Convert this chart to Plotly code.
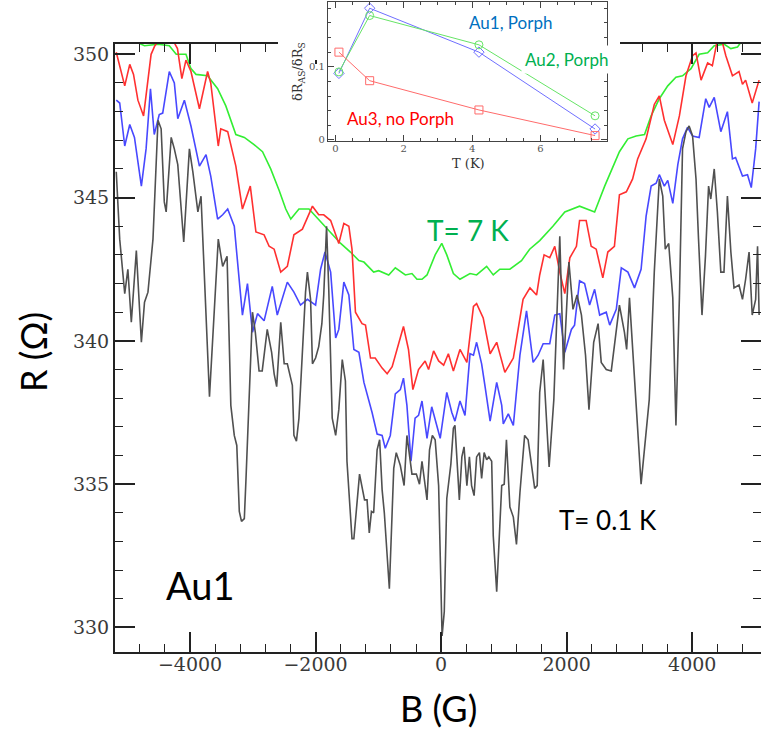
import plotly.graph_objects as go

W, H = 761, 734

# ---------------- main panel data: B (G) and R (Ohm) ----------------
B_green = [-5175, -4900, -4830, -4725, -4510, -4330, -4220, -4065, -3985, -3905, -3720, -3560, -3430,
           -3270, -3135, -2980, -2845, -2715, -2580, -2475, -2395, -2265, -2105, -1975, -1790, -1600,
           -1445, -1310, -1230, -1075, -995, -835, -730, -570, -465, -385, -305, -225, -95, 10, 90, 195,
           300, 460, 565, 725, 830, 935, 1095, 1280, 1410, 1570, 1780, 1970, 2205, 2445, 2605, 2735,
           2840, 2975, 3105, 3240, 3345, 3475, 3610, 3740, 3845, 3980, 4110, 4245, 4350, 4510, 4615,
           4720, 4800, 5100]
R_green = [350.6, 350.6, 350.4, 350.3, 350.35, 350.3, 350.0, 350.0, 349.5, 349.3, 349.25, 348.8, 348.2,
           347.2, 347.1, 346.85, 346.6, 346.0, 345.25, 344.6, 344.25, 344.6, 344.6, 344.3, 343.85, 343.4,
           343.1, 342.8, 342.75, 342.4, 342.45, 342.3, 342.55, 342.3, 342.35, 342.15, 342.15, 342.3, 343.0,
           343.4, 343.0, 342.35, 342.15, 342.35, 342.3, 342.6, 342.3, 342.5, 342.5, 342.8, 343.2, 343.5,
           344.0, 344.5, 344.7, 344.5, 345.4, 346.1, 346.6, 347.05, 347.15, 347.2, 347.85, 348.45, 348.9,
           349.2, 349.25, 349.5, 350.0, 350.05, 350.3, 350.35, 350.2, 350.25, 350.5, 350.7]

B_red = [-5175, -5040, -4960, -4900, -4830, -4740, -4620, -4560, -4450, -4300, -4200, -4130, -4065, -3985,
         -3850, -3720, -3670, -3550, -3510, -3400, -3270, -3165, -3040, -2950, -2820, -2740, -2660, -2555,
         -2450, -2345, -2210, -2050, -1950, -1870, -1760, -1630, -1550, -1470, -1420, -1365, -1260, -1205,
         -1125, -1050, -940, -860, -780, -700, -600, -520, -450, -360, -255, -200, -120, -40, 40, 115, 195,
         300, 410, 515, 565, 670, 780, 885, 1015, 1150, 1305, 1415, 1520, 1570, 1640, 1730, 1810, 1890,
         1970, 2050, 2155, 2205, 2310, 2390, 2470, 2575, 2655, 2760, 2840, 2950, 3050, 3130, 3265, 3395,
         3475, 3555, 3690, 3795, 3900, 4005, 4060, 4140, 4245, 4320, 4400, 4470, 4535, 4640, 4745, 4800,
         4850, 4955, 5065]
R_red = [350.07, 348.9, 349.65, 349.3, 348.4, 347.85, 350.0, 350.3, 350.6, 350.6, 350.2, 349.15, 349.8, 349.4,
         348.1, 349.4, 349.0, 346.8, 347.4, 347.3, 346.1, 344.6, 345.4, 343.8, 343.7, 343.3, 343.2, 342.4,
         342.6, 343.7, 343.9, 344.7, 344.4, 344.4, 344.2, 343.4, 344.1, 344.0, 343.2, 341.0, 340.6, 340.55,
         339.4, 339.4, 339.05, 338.85, 339.1, 339.7, 340.5, 339.7, 338.3, 339.0, 339.3, 339.0, 339.65, 339.3,
         339.15, 339.55, 338.95, 339.7, 339.25, 341.2, 341.3, 340.8, 339.55, 339.95, 338.9, 339.4, 341.45,
         341.85, 341.6, 342.3, 343.0, 342.9, 343.3, 342.4, 341.65, 342.9, 343.3, 344.2, 344.2, 343.3, 343.2,
         342.2, 343.1, 343.3, 345.1, 345.2, 345.65, 346.35, 347.05, 348.25, 348.55, 347.7, 346.85, 347.85,
         349.25, 349.95, 350.05, 349.1, 349.7, 349.6, 350.5, 350.5, 349.95, 349.25, 349.4, 348.95, 349.1,
         348.3, 349.1]

B_blue = [-5175, -5120, -5040, -4960, -4885, -4775, -4700, -4630, -4570, -4490, -4435, -4330, -4250, -4195,
          -4090, -3985, -3850, -3745, -3670, -3560, -3480, -3400, -3295, -3165, -3085, -3005, -2925, -2820,
          -2690, -2610, -2450, -2345, -2240, -2130, -2000, -1920, -1850, -1760, -1680, -1630, -1550, -1470,
          -1390, -1310, -1230, -1100, -1020, -940, -890, -810, -730, -650, -600, -545, -480, -415, -360,
          -305, -225, -150, -15, 90, 170, 220, 300, 380, 460, 515, 565, 645, 700, 780, 885, 965, 990, 1070,
          1150, 1255, 1360, 1465, 1545, 1625, 1730, 1810, 1890, 1970, 2075, 2125, 2205, 2285, 2365, 2445,
          2525, 2630, 2685, 2790, 2870, 2975, 3080, 3185, 3265, 3345, 3425, 3475, 3555, 3610, 3690, 3770,
          3845, 3925, 4005, 4110, 4215, 4270, 4350, 4455, 4560, 4640, 4690, 4800, 4880, 4940, 5010, 5065]
R_blue = [348.4, 348.3, 346.8, 347.55, 347.1, 345.4, 346.7, 348.8, 347.2, 347.9, 347.95, 349.4, 349.0, 347.75,
          348.4, 347.5, 346.1, 346.5, 345.75, 344.25, 344.4, 344.6, 344.0, 340.9, 342.0, 340.3, 340.95, 340.7,
          341.9, 340.9, 342.05, 341.7, 341.25, 341.45, 341.25, 342.5, 343.1, 342.4, 340.1, 340.4, 342.05,
          341.6, 339.7, 339.6, 338.55, 337.5, 336.75, 336.7, 336.25, 336.7, 338.15, 338.3, 338.7, 337.75,
          335.8, 337.3, 337.4, 337.9, 336.6, 337.7, 336.6, 338.2, 337.5, 337.2, 337.9, 337.4, 339.55, 339.5,
          339.95, 339.2, 338.4, 337.2, 338.55, 337.75, 337.1, 337.45, 337.05, 339.5, 341.05, 339.25, 339.5,
          339.9, 339.9, 340.9, 340.95, 339.6, 340.4, 340.55, 342.1, 342.0, 341.25, 341.8, 340.9, 341.0,
          340.55, 341.1, 342.55, 342.4, 341.85, 342.5, 344.35, 345.4, 345.5, 345.8, 345.4, 345.6, 344.8,
          346.15, 347.05, 347.45, 347.15, 347.1, 348.45, 348.15, 348.5, 347.3, 348.0, 346.35, 346.4, 345.75,
          345.8, 345.35, 346.7, 348.35]

B_black = [-5175, -5120, -5040, -4990, -4935, -4855, -4775, -4725, -4670, -4590, -4510, -4460, -4410, -4380,
           -4300, -4250, -4195, -4100, -4010, -3955, -3875, -3825, -3690, -3550, -3480, -3410, -3350, -3295,
           -3255, -3215, -3180, -3135, -3110, -3005, -2960, -2900, -2850, -2770, -2700, -2660, -2620, -2555,
           -2500, -2450, -2370, -2345, -2305, -2265, -2160, -2130, -2080, -2050, -2000, -1950, -1900, -1870,
           -1825, -1790, -1735, -1680, -1630, -1575, -1525, -1500, -1420, -1390, -1300, -1220, -1180, -1145,
           -1110, -1075, -1020, -980, -940, -905, -825, -755, -715, -650, -590, -545, -465, -395, -345, -305,
           -225, -185, -140, -95, -40, -15, 15, 50, 90, 155, 195, 220, 290, 330, 365, 410, 450, 485, 525, 565,
           610, 645, 685, 725, 760, 805, 830, 885, 965, 1005, 1040, 1095, 1150, 1200, 1255, 1330, 1385, 1490,
           1530, 1570, 1625, 1720, 1795, 1890, 1950, 2035, 2100, 2165, 2235, 2300, 2355, 2430, 2500, 2550,
           2630, 2710, 2760, 2840, 2920, 2955, 3000, 3185, 3315, 3395, 3475, 3530, 3570, 3625, 3690, 3740,
           3795, 3845, 3900, 3950, 4005, 4060, 4100, 4155, 4210, 4260, 4295, 4350, 4400, 4455, 4505, 4560,
           4615, 4665, 4745, 4800, 4850, 4905, 4955, 5010, 5040, 5065]
R_black = [345.9, 343.55, 341.65, 342.5, 340.65, 343.15, 339.95, 341.35, 341.7, 343.55, 347.7, 347.4, 344.85,
           344.5, 347.1, 346.7, 346.15, 343.45, 346.7, 345.9, 344.5, 345.05, 338.05, 343.55, 342.6, 342.95,
           337.75, 336.7, 336.35, 334.05, 333.7, 333.8, 335.1, 341.0, 340.3, 338.95, 338.95, 340.4, 339.6,
           338.85, 338.4, 340.65, 339.2, 339.2, 338.45, 336.7, 336.5, 337.3, 341.7, 342.4, 341.45, 339.2,
           339.4, 339.8, 340.6, 341.6, 344.0, 341.8, 337.3, 336.7, 337.6, 339.35, 338.6, 335.8, 333.1, 333.1,
           335.35, 334.45, 334.45, 333.3, 334.05, 334.0, 336.2, 336.55, 334.8, 334.0, 331.35, 335.55, 336.1,
           335.65, 334.95, 336.7, 335.35, 335.35, 335.0, 335.8, 334.45, 336.2, 336.7, 336.55, 334.95, 332.65,
           329.7, 330.55, 334.5, 335.7, 336.95, 337.05, 334.45, 335.95, 336.3, 334.95, 335.95, 334.95, 334.6,
           335.95, 336.1, 335.2, 336.1, 335.85, 335.95, 335.8, 333.2, 331.25, 334.95, 335.0, 336.55, 334.2,
           333.85, 332.9, 334.7, 336.7, 336.55, 334.85, 334.95, 338.2, 339.35, 335.6, 337.95, 343.65, 339.0,
           342.75, 341.1, 341.6, 340.9, 339.5, 337.6, 339.95, 340.6, 339.25, 339.0, 338.95, 339.9, 341.25,
           340.3, 339.7, 341.5, 335.0, 337.95, 342.4, 345.65, 345.05, 343.2, 343.4, 341.5, 337.05, 341.5,
           346.7, 347.3, 347.5, 347.15, 345.65, 343.55, 340.9, 342.95, 345.4, 344.95, 346.0, 344.5, 342.4,
           342.4, 345.05, 343.1, 341.85, 341.95, 341.45, 342.15, 343.1, 340.9, 341.45, 343.3, 340.9]

# ---------------- inset data ----------------
T_K = [0.1, 1.0, 4.2, 7.6]
ratio_au1 = [0.091, 0.180, 0.120, 0.015]
ratio_au2 = [0.093, 0.170, 0.130, 0.033]
ratio_au3 = [0.120, 0.081, 0.041, 0.006]

# ---------------- geometry (pixels -> paper) ----------------
def px(x):
    return x / W

def py(y):
    return 1 - y / H

main_x = [px(115), 1.0]
main_y = [py(651.5), py(44)]
inset_x = [px(328), px(607)]
inset_y = [py(141), py(2)]
cover_x = [px(278), px(620)]
cover_y = [py(60), 1.0]

SERIF = "DejaVu Serif"
SANS = "Lato"
AX = "#222222"

fig = go.Figure()

main_series = [
    (B_green, R_green, "#33ee33"),
    (B_red, R_red, "#ff3030"),
    (B_blue, R_blue, "#4848ff"),
    (B_black, R_black, "#505050"),
]
for bx, ry, col in main_series:
    fig.add_trace(go.Scatter(x=bx, y=ry, mode="lines", xaxis="x", yaxis="y",
                             line=dict(color=col, width=1.6), showlegend=False,
                             hoverinfo="skip"))

# white cover subplot (hides part of main frame behind inset)
fig.add_trace(go.Scatter(x=[0], y=[0], mode="markers", marker=dict(opacity=0),
                         xaxis="x2", yaxis="y2", showlegend=False, hoverinfo="skip"))

inset_series = [
    (ratio_au1, "#6f6fff", "diamond-open"),
    (ratio_au2, "#66e466", "circle-open"),
    (ratio_au3, "#ff6b6b", "square-open"),
]
for vals, col, sym in inset_series:
    fig.add_trace(go.Scatter(x=T_K, y=vals, mode="lines+markers", xaxis="x3", yaxis="y3",
                             line=dict(color=col, width=1),
                             marker=dict(symbol=sym, size=8, color=col, line=dict(color=col, width=1)),
                             showlegend=False, hoverinfo="skip"))

fig.update_layout(
    width=W, height=H,
    margin=dict(l=0, r=0, t=0, b=0),
    paper_bgcolor="white", plot_bgcolor="white",
    xaxis=dict(domain=main_x, range=[-5195, 5095], anchor="y",
               tick0=0, dtick=2000, ticks="inside", ticklen=20, tickwidth=1.5, tickcolor=AX,
               minor=dict(dtick=400, tick0=0, ticks="inside", ticklen=8, tickwidth=1.2, tickcolor=AX),
               showline=True, linecolor=AX, linewidth=2, mirror="allticks",
               showgrid=False, zeroline=False, automargin=False, ticklabelstandoff=-5,
               tickfont=dict(family=SERIF, size=19, color="#3a3a3a")),
    yaxis=dict(domain=main_y, range=[329.16, 350.36], anchor="x",
               tick0=330, dtick=5, ticks="inside", ticklen=20, tickwidth=1.5, tickcolor=AX,
               minor=dict(dtick=1, tick0=330, ticks="inside", ticklen=8, tickwidth=1.2, tickcolor=AX),
               showline=True, linecolor=AX, linewidth=2, mirror="allticks",
               showgrid=False, zeroline=False, automargin=False,
               tickfont=dict(family=SERIF, size=19, color="#3a3a3a")),
    xaxis2=dict(domain=cover_x, range=[0, 1], anchor="y2", visible=False, fixedrange=True),
    yaxis2=dict(domain=cover_y, range=[0, 1], anchor="x2", visible=False, fixedrange=True),
    xaxis3=dict(domain=inset_x, range=[-0.22, 7.95], anchor="y3",
                tick0=0, dtick=2, ticks="inside", ticklen=6, tickwidth=1, tickcolor="#444",
                minor=dict(dtick=0.5, tick0=0, ticks="inside", ticklen=3, tickwidth=1, tickcolor="#444"),
                showline=True, linecolor="#444", linewidth=1.2, mirror="allticks",
                showgrid=False, zeroline=False, automargin=False, ticklabelstandoff=-2,
                tickfont=dict(family=SERIF, size=10, color="#555")),
    yaxis3=dict(domain=inset_y, range=[-0.0014, 0.1885], anchor="x3",
                tick0=0, dtick=0.1, ticks="inside", ticklen=6, tickwidth=1, tickcolor="#444",
                minor=dict(dtick=0.02, tick0=0, ticks="inside", ticklen=3, tickwidth=1, tickcolor="#444"),
                showline=True, linecolor="#444", linewidth=1.2, mirror="allticks",
                showgrid=False, zeroline=False, automargin=False,
                tickfont=dict(family=SERIF, size=10, color="#555")),
)

ann = [
    dict(text="R (Ω)", x=px(33), y=py(352), textangle=-90, font=dict(family=SANS, size=36, color="black")),
    dict(text="B (G)", x=px(438), y=py(708), font=dict(family=SANS, size=36, color="black")),
    dict(text="T= 7 K", x=px(468), y=py(230), font=dict(family=SANS, size=28, color="#00B050")),
    dict(text="T= 0.1 K", x=px(608), y=py(520), font=dict(family=SANS, size=26, color="black")),
    dict(text="Au1", x=px(200), y=py(585), font=dict(family=SANS, size=38, color="black")),
    dict(text="Au1, Porph", x=px(511), y=py(23), font=dict(family=SANS, size=17, color="#0070C0")),
    dict(text="Au2, Porph", x=px(566), y=py(59), font=dict(family=SANS, size=17, color="#00B050"),
         bgcolor="white", borderpad=3),
    dict(text="Au3, no Porph", x=px(400), y=py(118), font=dict(family=SANS, size=17, color="#FF0000")),
    dict(text="T (K)", x=px(468), y=py(164), font=dict(family=SERIF, size=13, color="#333")),
    dict(text="δR<sub>AS</sub>/δR<sub>S</sub>", x=px(298), y=py(72), textangle=-90,
         font=dict(family=SERIF, size=13, color="#333")),
]
for a in ann:
    a.update(xref="paper", yref="paper", showarrow=False, xanchor="center", yanchor="middle")
    fig.add_annotation(**a)

fig.write_html("out.html", config={"displayModeBar": False},
               post_script="document.body.style.margin='0';document.body.style.padding='0';")
